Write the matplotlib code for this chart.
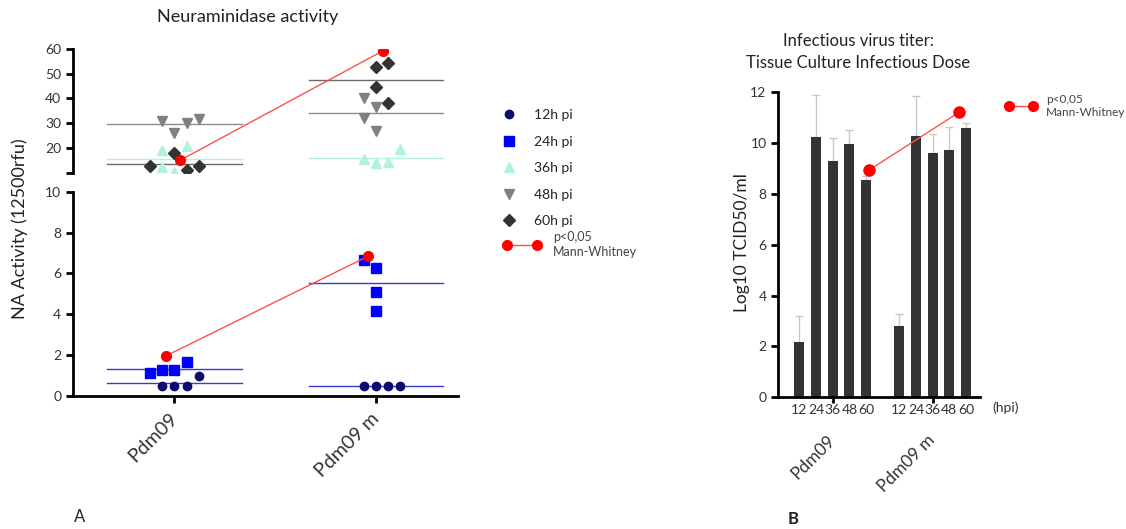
import numpy as np
import matplotlib
matplotlib.use("Agg")
import matplotlib.pyplot as plt
from matplotlib.lines import Line2D

plt.rcParams['font.family'] = ['Lato', 'DejaVu Sans']

groups = ["Pdm09", "Pdm09 m"]
timepoints = ["12h pi", "24h pi", "36h pi", "48h pi", "60h pi"]

# NA activity (12500 rfu), 4 animals per group and time point
na_12h = [[0.49, 0.49, 0.49, 0.99], [0.49, 0.49, 0.49, 0.49]]
na_24h = [[1.14, 1.27, 1.27, 1.66], [6.66, 6.25, 5.10, 4.18]]
na_36h = [[19.2, 12.4, 10.4, 20.8], [15.4, 14.0, 14.4, 19.4]]
na_48h = [[31.0, 26.1, 30.2, 31.5], [40.0, 36.6, 31.9, 27.0]]
na_60h = [[12.7, 18.1, 11.1, 12.7], [52.5, 54.1, 44.7, 38.2]]

# horizontal jitter of the points (layout only)
jit_12h = [[-0.06, 0.0, 0.06, 0.12], [-0.06, 0.0, 0.06, 0.12]]
jit_24h = [[-0.12, -0.06, 0.0, 0.06], [-0.06, 0.0, 0.0, 0.0]]
jit_36h = [[-0.06, -0.06, 0.0, 0.06], [-0.06, 0.0, 0.06, 0.12]]
jit_48h = [[-0.06, 0.0, 0.06, 0.12], [-0.06, 0.0, -0.06, 0.0]]
jit_60h = [[-0.12, 0.0, 0.06, 0.12], [0.0, 0.06, 0.0, 0.06]]

# significance markers (p<0,05 Mann-Whitney)
sig_top = [15.1, 59.1]
sig_bottom = [1.96, 6.85]

# TCID50 titers
hpi = ["12", "24", "36", "48", "60"]
tcid_pdm09 = [2.19, 10.26, 9.30, 9.97, 8.54]
tcid_pdm09_err = [1.01, 1.65, 0.91, 0.55, 0.17]
tcid_pdm09m = [2.81, 10.29, 9.63, 9.72, 10.58]
tcid_pdm09m_err = [0.46, 1.58, 0.71, 0.91, 0.23]
sig_tcid = [8.95, 11.22]

W, H = 1126, 529
fig = plt.figure(figsize=(W / 100, H / 100), dpi=100)


def frac(x0, y0, x1, y1):
    return [x0 / W, 1 - y1 / H, (x1 - x0) / W, (y1 - y0) / H]


ax_top = fig.add_axes(frac(73, 48.7, 458, 172.7))
ax_bot = fig.add_axes(frac(73, 191.7, 458, 396))
ax_r = fig.add_axes(frac(778.3, 92.3, 980, 397.3))

tick_col = '#333333'
for ax in (ax_top, ax_bot, ax_r):
    for s in ('top', 'right'):
        ax.spines[s].set_visible(False)
    ax.spines['left'].set_linewidth(2)
    ax.spines['bottom'].set_linewidth(2)
    ax.tick_params(width=2, length=5, labelsize=10, colors='black', labelcolor=tick_col)

ax_top.spines['bottom'].set_visible(False)
ax_top.set_xticks([])

styles = [
    (na_12h, jit_12h, 'o', '#0b0b70', 6, ax_bot, '#3a3ad0'),
    (na_24h, jit_24h, 's', '#0000ff', 6.5, ax_bot, '#3a3ad0'),
    (na_36h, jit_36h, '^', '#b0f2da', 7, ax_top, '#b0f2da'),
    (na_48h, jit_48h, 'v', '#808080', 7, ax_top, '#8c8c8c'),
    (na_60h, jit_60h, 'D', '#333333', 6, ax_top, '#6a6a6a'),
]
for vals, jits, mk, col, ms, ax, lcol in styles:
    for g in range(2):
        xs = np.array(jits[g]) + g
        ax.plot(xs, vals[g], linestyle='none', marker=mk, color=col, ms=ms, zorder=3)
        m = np.mean(vals[g])
        ax.plot([g - 0.333, g + 0.333], [m, m], color=lcol, lw=1, zorder=2)

ax_top.plot([0.03, 1.033], sig_top, color='#ff5050', lw=1, marker='o',
            mfc='#ff0000', mec='#ff0000', ms=7, zorder=4)
ax_bot.plot([-0.043, 0.962], sig_bottom, color='#ff5050', lw=1, marker='o',
            mfc='#ff0000', mec='#ff0000', ms=7, zorder=4)

for ax in (ax_top, ax_bot):
    ax.set_xlim(-0.503, 1.406)
ax_top.set_ylim(10, 60)
ax_top.set_yticks([10, 20, 30, 40, 50, 60])
ax_top.set_yticklabels(['', '20', '30', '40', '50', '60'])
ax_bot.set_ylim(0, 10)
ax_bot.set_yticks([0, 2, 4, 6, 8, 10])
ax_bot.set_xticks([0, 1])
ax_bot.set_xticklabels(groups, rotation=45, ha='right', va='center',
                       rotation_mode='anchor', fontsize=14, color=tick_col)
ax_bot.tick_params(axis='x', pad=9)

fig.text(248 / W, 1 - 17 / H, "Neuraminidase activity", ha='center', va='center',
         fontsize=13, color='#222222')
fig.text(20 / W, 1 - 229 / H, "NA Activity (12500rfu)", rotation=90, ha='center',
         va='center', fontsize=13, color='#222222')
fig.text(80 / W, 1 - 517 / H, "A", ha='center', va='center', fontsize=12, color='#222222')

handles = [Line2D([], [], linestyle='none', marker=s[2], color=s[3], ms=s[4])
           for s in styles]
leg1 = fig.legend(handles, timepoints, loc='upper left',
                  bbox_to_anchor=(502 / W, 1 - 109 / H), frameon=False,
                  fontsize=10, labelspacing=1.05, handlelength=1.0,
                  handletextpad=1.3, borderpad=0, borderaxespad=0)
for t in leg1.get_texts():
    t.set_color('#222222')
sig_handle = Line2D([], [], color='#ff5050', lw=1, marker='o', mfc='#ff0000',
                    mec='#ff0000', ms=7)
leg2 = fig.legend([sig_handle], ["p<0,05\nMann-Whitney"], loc='upper left',
                  bbox_to_anchor=(503 / W, 1 - 231 / H), frameon=False, fontsize=9,
                  numpoints=2, handlelength=3.0, handletextpad=1.0,
                  borderpad=0, borderaxespad=0)
for t in leg2.get_texts():
    t.set_color('#444444')
    t.set_linespacing(1.25)

# right panel: TCID50 bars
pos1 = np.arange(5)
pos2 = np.arange(5) + 6
for pos, vals, err in ((pos1, tcid_pdm09, tcid_pdm09_err), (pos2, tcid_pdm09m, tcid_pdm09m_err)):
    ax_r.errorbar(pos, vals, yerr=[np.zeros(5), err], fmt='none', ecolor='#c8c8c8',
                  elinewidth=1, capsize=3, capthick=1, zorder=1)
    ax_r.bar(pos, vals, width=0.6, color='#333333', zorder=2)
ax_r.plot([4.2, 9.6], sig_tcid, color='#ff5050', lw=1, marker='o', mfc='#ff0000',
          mec='#ff0000', ms=8, zorder=4)

ax_r.set_xlim(-1.27, 10.84)
ax_r.set_ylim(0, 12)
ax_r.set_yticks([0, 2, 4, 6, 8, 10, 12])
ax_r.xaxis.remove_overlapping_locs = False
ax_r.set_xticks([2, 8])
ax_r.set_xticklabels(groups, rotation=45, ha='right', va='center',
                     rotation_mode='anchor', fontsize=12.5, color=tick_col)
ax_r.tick_params(axis='x', length=4, pad=25)
ax_r.set_xticks(np.concatenate([pos1, pos2]), minor=True)
ax_r.set_xticklabels(hpi * 2, minor=True, fontsize=10, color=tick_col)
ax_r.tick_params(axis='x', which='minor', length=0, pad=5)

fig.text(1006 / W, 1 - 408 / H, "(hpi)", ha='center', va='center', fontsize=10,
         color=tick_col)
fig.text(858 / W, 1 - 52 / H, "Infectious virus titer:\nTissue Culture Infectious Dose",
         ha='center', va='center', fontsize=12, color='#222222', linespacing=1.4)
fig.text(742 / W, 1 - 243 / H, "Log10 TCID50/ml", rotation=90, ha='center',
         va='center', fontsize=12.5, color='#222222')
fig.text(793 / W, 1 - 519 / H, "B", ha='center', va='center', fontsize=12,
         fontweight='bold', color='#222222')

leg3 = fig.legend([sig_handle], ["p<0,05\nMann-Whitney"], loc='upper left',
                  bbox_to_anchor=(1005 / W, 1 - 94 / H), frameon=False, fontsize=8.5,
                  numpoints=2, handlelength=2.7, handletextpad=0.8,
                  borderpad=0, borderaxespad=0)
for t in leg3.get_texts():
    t.set_color('#444444')
    t.set_linespacing(1.25)

fig.savefig("out.png", dpi=100)
